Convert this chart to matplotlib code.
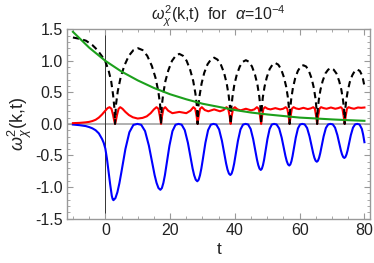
import matplotlib
matplotlib.use("Agg")
import matplotlib.pyplot as plt
from matplotlib.ticker import MultipleLocator, FormatStrFormatter

plt.rcParams['font.family'] = ['Liberation Sans', 'DejaVu Sans']
plt.rcParams['mathtext.fontset'] = 'custom'
plt.rcParams['mathtext.rm'] = 'Liberation Sans'
plt.rcParams['mathtext.it'] = 'Liberation Sans:italic'
plt.rcParams['mathtext.sf'] = 'Liberation Sans'

# ---------------- data ----------------
green_t = [-10, -5, 0, 5, 10, 15, 20, 25, 30, 35, 40, 45, 50, 55, 60, 65, 70, 75, 80]
green_v = [1.46, 1.21, 1.00, 0.83, 0.69, 0.57, 0.47, 0.39, 0.32, 0.27, 0.22, 0.18,
           0.15, 0.125, 0.10, 0.086, 0.071, 0.059, 0.049]

black_t = [-10, -8, -6, -4, -3, -2, -1, 0, 1, 1.8, 2.4, 2.75, 2.92, 3.0,
           3.28, 3.85, 4.70, 5.84, 7.26, 8.68, 10.1, 11.52, 12.94, 14.36, 15.50, 16.35, 16.92, 17.2,
           17.43, 17.88, 18.56, 19.46, 20.59, 21.72, 22.85, 23.98, 25.11, 26.24, 27.14, 27.82, 28.27, 28.5,
           28.70, 29.11, 29.72, 30.54, 31.56, 32.58, 33.6, 34.62, 35.64, 36.66, 37.48, 38.09, 38.50, 38.7,
           38.89, 39.26, 39.83, 40.58, 41.52, 42.46, 43.4, 44.34, 45.28, 46.22, 46.97, 47.54, 47.91, 48.1,
           48.28, 48.63, 49.16, 49.86, 50.74, 51.62, 52.5, 53.38, 54.26, 55.14, 55.84, 56.37, 56.72, 56.9,
           57.07, 57.41, 57.92, 58.6, 59.45, 60.3, 61.15, 62.0, 62.85, 63.7, 64.38, 64.89, 65.23, 65.4,
           65.57, 65.91, 66.42, 67.1, 67.95, 68.8, 69.65, 70.5, 71.35, 72.2, 72.88, 73.39, 73.73, 73.9,
           74.06, 74.37, 74.84, 75.46, 76.24, 77.02, 77.8, 78.58, 79.36, 80.0]
black_v = [1.37, 1.35, 1.32, 1.25, 1.20, 1.14, 1.07, 0.99, 0.85, 0.68, 0.46, 0.28, 0.15, 0.0,
           0.30, 0.52, 0.73, 0.92, 1.08, 1.17, 1.20, 1.17, 1.08, 0.92, 0.73, 0.52, 0.30, 0.0,
           0.28, 0.48, 0.68, 0.85, 1.00, 1.08, 1.11, 1.08, 1.00, 0.85, 0.68, 0.48, 0.28, 0.0,
           0.26, 0.45, 0.64, 0.81, 0.945, 1.02, 1.05, 1.02, 0.945, 0.81, 0.64, 0.45, 0.26, 0.0,
           0.25, 0.43, 0.62, 0.78, 0.91, 0.985, 1.01, 0.985, 0.91, 0.78, 0.62, 0.43, 0.25, 0.0,
           0.24, 0.42, 0.59, 0.74, 0.87, 0.94, 0.965, 0.94, 0.87, 0.74, 0.59, 0.42, 0.24, 0.0,
           0.23, 0.40, 0.57, 0.72, 0.84, 0.91, 0.93, 0.91, 0.84, 0.72, 0.57, 0.40, 0.23, 0.0,
           0.22, 0.38, 0.54, 0.68, 0.80, 0.86, 0.885, 0.86, 0.80, 0.68, 0.54, 0.38, 0.22, 0.0,
           0.22, 0.37, 0.52, 0.66, 0.77, 0.84, 0.86, 0.84, 0.76, 0.60]

blue_t = [-10, -8, -6, -5, -4, -3, -2, -1, -0.5, 0, 0.5, 1, 1.5, 2, 2.25, 2.5,
          3.117, 3.733, 4.35, 4.967, 6.2, 7.433, 8.667, 9.9,
          11.08, 12.27, 13.45, 14.63, 15.225, 15.82, 16.41, 17.0,
          17.47, 17.93, 18.4, 18.87, 19.8, 20.73, 21.67, 22.6,
          23.57, 24.53, 25.5, 26.47, 26.95, 27.43, 27.92, 28.4,
          28.82, 29.23, 29.65, 30.07, 30.9, 31.73, 32.57, 33.4,
          34.27, 35.13, 36.0, 36.87, 37.3, 37.73, 38.17, 38.6,
          38.99, 39.38, 39.78, 40.17, 40.95, 41.73, 42.52, 43.3,
          44.08, 44.87, 45.65, 46.43, 46.83, 47.22, 47.61, 48.0,
          48.34, 48.68, 49.03, 49.37, 50.05, 50.73, 51.42, 52.1,
          52.88, 53.67, 54.45, 55.23, 55.63, 56.02, 56.41, 56.8,
          57.13, 57.47, 57.8, 58.13, 58.8, 59.47, 60.13, 60.8,
          61.55, 62.3, 63.05, 63.8, 64.18, 64.55, 64.93, 65.3,
          65.65, 66.0, 66.35, 66.7, 67.4, 68.1, 68.8, 69.5,
          70.22, 70.93, 71.65, 72.37, 72.73, 73.08, 73.44, 73.8,
          74.13, 74.47, 74.8, 75.13, 75.8, 76.47, 77.13, 77.8,
          78.5, 79.2, 79.6, 80.0]
blue_v = [-0.01, -0.02, -0.035, -0.05, -0.07, -0.10, -0.15, -0.24, -0.30, -0.39, -0.55, -0.76, -0.96, -1.14, -1.19, -1.21,
          -1.177, -1.083, -0.940, -0.764, -0.399, -0.132, -0.016, 0.0,
          -0.014, -0.114, -0.345, -0.659, -0.812, -0.935, -1.017, -1.045,
          -1.017, -0.935, -0.812, -0.659, -0.345, -0.114, -0.014, 0.0,
          -0.012, -0.099, -0.300, -0.574, -0.707, -0.814, -0.885, -0.91,
          -0.885, -0.814, -0.707, -0.574, -0.300, -0.099, -0.012, 0.0,
          -0.011, -0.088, -0.267, -0.511, -0.629, -0.725, -0.788, -0.81,
          -0.788, -0.725, -0.629, -0.511, -0.267, -0.088, -0.011, 0.0,
          -0.009, -0.080, -0.241, -0.461, -0.567, -0.653, -0.710, -0.73,
          -0.710, -0.653, -0.567, -0.461, -0.241, -0.080, -0.009, 0.0,
          -0.009, -0.072, -0.218, -0.416, -0.513, -0.591, -0.642, -0.66,
          -0.642, -0.591, -0.513, -0.416, -0.218, -0.072, -0.009, 0.0,
          -0.008, -0.065, -0.198, -0.379, -0.466, -0.537, -0.584, -0.60,
          -0.584, -0.537, -0.466, -0.379, -0.198, -0.065, -0.008, 0.0,
          -0.007, -0.059, -0.178, -0.341, -0.420, -0.483, -0.525, -0.54,
          -0.525, -0.483, -0.420, -0.341, -0.178, -0.059, -0.007, 0.0,
          -0.01, -0.08, -0.17, -0.29]

red_t = [-10, -8, -6, -5, -4, -3, -2, -1, 0, 0.7, 1.3, 1.9, 2.4, 2.75, 3.0,
         3.25, 3.6, 4.1, 4.6, 5.3, 6.2, 7.3, 8.5, 10.0, 11.5, 12.8, 14.0, 15.0, 15.8, 16.4, 16.85, 17.2,
         17.5, 17.95, 18.5, 19.4, 20.7, 22.85, 25.0, 26.3, 27.2, 27.75, 28.2, 28.5,
         28.8, 29.25, 29.8, 30.7, 31.8, 33.6, 35.4, 36.5, 37.4, 37.95, 38.4, 38.7,
         39.0, 39.45, 40.0, 40.8, 41.8, 43.4, 45.0, 46.0, 46.8, 47.35, 47.8, 48.1,
         48.4, 48.8, 49.3, 50.1, 51.0, 52.5, 54.0, 54.9, 55.7, 56.2, 56.6, 56.9,
         57.2, 57.6, 58.1, 58.9, 59.8, 61.15, 62.5, 63.4, 64.2, 64.7, 65.1, 65.4,
         65.7, 66.1, 66.6, 67.4, 68.3, 69.65, 71.0, 71.9, 72.7, 73.2, 73.6, 73.9,
         74.2, 74.6, 75.1, 75.9, 76.8, 78.0, 79.0, 80.0]
red_v = [0.012, 0.016, 0.025, 0.032, 0.045, 0.065, 0.10, 0.15, 0.21, 0.25, 0.265, 0.24, 0.14, 0.05, 0.0,
         0.05, 0.14, 0.24, 0.265, 0.24, 0.19, 0.14, 0.105, 0.085, 0.095, 0.12, 0.17, 0.23, 0.265, 0.24, 0.12, 0.0,
         0.12, 0.24, 0.265, 0.21, 0.17, 0.19, 0.17, 0.21, 0.265, 0.24, 0.12, 0.0,
         0.12, 0.24, 0.265, 0.22, 0.20, 0.23, 0.20, 0.22, 0.265, 0.24, 0.12, 0.0,
         0.12, 0.24, 0.265, 0.23, 0.215, 0.24, 0.215, 0.23, 0.265, 0.24, 0.12, 0.0,
         0.12, 0.24, 0.265, 0.24, 0.23, 0.25, 0.23, 0.24, 0.265, 0.24, 0.12, 0.0,
         0.12, 0.24, 0.265, 0.245, 0.235, 0.255, 0.235, 0.245, 0.265, 0.24, 0.12, 0.0,
         0.12, 0.24, 0.265, 0.25, 0.24, 0.26, 0.24, 0.25, 0.265, 0.24, 0.12, 0.0,
         0.12, 0.24, 0.265, 0.25, 0.24, 0.26, 0.255, 0.26]

x_ticks = [0, 20, 40, 60, 80]
y_ticks = [-1.5, -1.0, -0.5, 0.0, 0.5, 1.0, 1.5]

# ---------------- figure ----------------
fig = plt.figure(figsize=(3.74, 2.63), dpi=100)
ax = fig.add_axes([0.1794, 0.1692, 0.8106, 0.7194])

frame_col = '#999999'
ax.axhline(0, color='#aaaaaa', lw=1.3, zorder=1)
ax.axvline(0, color='#333333', lw=0.7, zorder=1)

ax.plot(blue_t, blue_v, color='#0000ff', lw=1.5, zorder=3)
ax.plot(red_t, red_v, color='#ff0000', lw=1.5, zorder=3)
ax.plot(black_t, black_v, color='black', lw=1.5, dashes=(3.0, 2.0), zorder=4)
ax.plot(green_t, green_v, color='#1ca01c', lw=1.5, zorder=4)

ax.set_xlim(-11.8, 81.8)
ax.set_ylim(-1.5, 1.5)
ax.set_xticks(x_ticks)
ax.set_yticks(y_ticks)
ax.yaxis.set_major_formatter(FormatStrFormatter('%.1f'))
ax.xaxis.set_minor_locator(MultipleLocator(5))
ax.yaxis.set_minor_locator(MultipleLocator(0.1))

for s in ax.spines.values():
    s.set_color(frame_col)
    s.set_linewidth(1.0)

ax.tick_params(which='both', direction='in', top=True, right=True, color=frame_col,
               labelsize=11.5, labelcolor='#222222')
ax.tick_params(which='major', length=4, width=0.8, pad=3)
ax.tick_params(which='minor', length=2.2, width=0.6)

ax.set_xlabel('t', fontsize=12.5, color='#222222', labelpad=3)
ax.set_ylabel(r'$\omega_{\chi}^{2}$(k,t)', fontsize=13, color='#222222', labelpad=1)
ax.set_title(r'$\omega_{\chi}^{2}$(k,t)  for  $\alpha$=10$^{-4}$', fontsize=11.5,
             color='#222222', pad=5)

fig.savefig('out.png', dpi=100)
